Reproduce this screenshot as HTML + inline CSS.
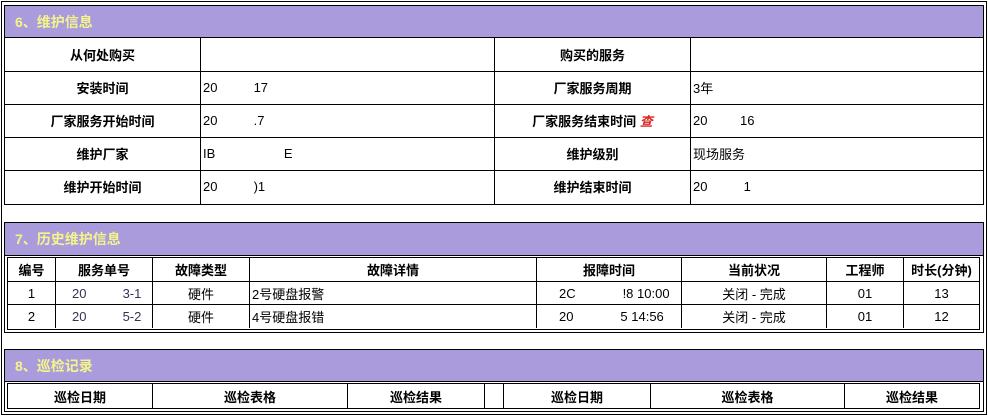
<!DOCTYPE html>
<html><head><meta charset="utf-8"><style>
*{margin:0;padding:0;box-sizing:border-box}
body{width:988px;height:416px;background:#fff;position:relative;overflow:hidden;font-family:"Liberation Sans","Noto Sans CJK SC",sans-serif;font-size:13px;color:#000}
.a{position:absolute}
.frame{left:1px;top:1px;width:986px;height:414px;border:1px solid #000}
.box{border:1px solid #000;background:#fff}
.hd{background:#a99bdc;color:#f4f48a;font-weight:bold;font-size:14px;padding-left:10px;display:flex;align-items:center;border-bottom:1px solid #000}
.hl{background:#000}
.t{position:absolute;display:flex;align-items:center;white-space:pre}
.c{justify-content:center}
.b{font-weight:bold}
.blue{color:#335}
</style></head><body>
<div class="a frame"></div>

<!-- section 6 -->
<div class="a box" style="left:4px;top:5px;width:980px;height:200px"></div>
<div class="a hd" style="left:5px;top:6px;width:978px;height:32px">6、维护信息</div>
<div class="a hl" style="left:5px;top:71px;width:978px;height:1px"></div>
<div class="a hl" style="left:5px;top:104px;width:978px;height:1px"></div>
<div class="a hl" style="left:5px;top:137px;width:978px;height:1px"></div>
<div class="a hl" style="left:5px;top:170px;width:978px;height:1px"></div>
<div class="a hl" style="left:200px;top:38px;width:1px;height:166px"></div>
<div class="a hl" style="left:494px;top:38px;width:1px;height:166px"></div>
<div class="a hl" style="left:690px;top:38px;width:1px;height:166px"></div>

<div class="t c b" style="left:5px;top:38px;width:195px;height:33px">从何处购买</div>
<div class="t c b" style="left:5px;top:71px;width:195px;height:33px">安装时间</div>
<div class="t c b" style="left:5px;top:104px;width:195px;height:33px">厂家服务开始时间</div>
<div class="t c b" style="left:5px;top:137px;width:195px;height:33px">维护厂家</div>
<div class="t c b" style="left:5px;top:170px;width:195px;height:33px">维护开始时间</div>
<div class="t" style="left:203px;top:71px;height:33px">20          17</div>
<div class="t" style="left:203px;top:104px;height:33px">20          .7</div>
<div class="t" style="left:203px;top:137px;height:33px">IB                   E</div>
<div class="t" style="left:203px;top:170px;height:33px">20          )1</div>

<div class="t c b" style="left:495px;top:38px;width:195px;height:33px">购买的服务</div>
<div class="t c b" style="left:495px;top:71px;width:195px;height:33px">厂家服务周期</div>
<div class="t c b" style="left:495px;top:104px;width:195px;height:33px">厂家服务结束时间 <span style="color:#d22;font-style:italic">查</span></div>
<div class="t c b" style="left:495px;top:137px;width:195px;height:33px">维护级别</div>
<div class="t c b" style="left:495px;top:170px;width:195px;height:33px">维护结束时间</div>
<div class="t" style="left:693px;top:71px;height:33px">3年</div>
<div class="t" style="left:693px;top:104px;height:33px">20         16</div>
<div class="t" style="left:693px;top:137px;height:33px">现场服务</div>
<div class="t" style="left:693px;top:170px;height:33px">20          1</div>

<!-- section 7 -->
<div class="a box" style="left:4px;top:222px;width:980px;height:111px"></div>
<div class="a hd" style="left:5px;top:223px;width:978px;height:33px">7、历史维护信息</div>
<div class="a" style="left:7px;top:257px;width:973px;height:73px;border:1px solid #000"></div>
<div class="a hl" style="left:8px;top:281px;width:971px;height:1px"></div>
<div class="a hl" style="left:8px;top:304px;width:971px;height:1px"></div>
<div class="a hl" style="left:55px;top:258px;width:1px;height:70px"></div>
<div class="a hl" style="left:152px;top:258px;width:1px;height:70px"></div>
<div class="a hl" style="left:249px;top:258px;width:1px;height:70px"></div>
<div class="a hl" style="left:536px;top:258px;width:1px;height:70px"></div>
<div class="a hl" style="left:681px;top:258px;width:1px;height:70px"></div>
<div class="a hl" style="left:826px;top:258px;width:1px;height:70px"></div>
<div class="a hl" style="left:903px;top:258px;width:1px;height:70px"></div>

<div class="t c b" style="left:8px;top:258px;width:47px;height:23px">编号</div>
<div class="t c b" style="left:56px;top:258px;width:96px;height:23px">服务单号</div>
<div class="t c b" style="left:153px;top:258px;width:96px;height:23px">故障类型</div>
<div class="t c b" style="left:250px;top:258px;width:286px;height:23px">故障详情</div>
<div class="t c b" style="left:537px;top:258px;width:144px;height:23px">报障时间</div>
<div class="t c b" style="left:682px;top:258px;width:144px;height:23px">当前状况</div>
<div class="t c b" style="left:827px;top:258px;width:76px;height:23px">工程师</div>
<div class="t c b" style="left:904px;top:258px;width:75px;height:23px">时长(分钟)</div>

<div class="t c" style="left:8px;top:282px;width:47px;height:22px">1</div>
<div class="t blue" style="left:72px;top:282px;height:22px">20          3-1</div>
<div class="t c" style="left:153px;top:282px;width:96px;height:22px">硬件</div>
<div class="t" style="left:252px;top:282px;height:22px">2号硬盘报警</div>
<div class="t" style="left:559px;top:282px;height:22px">2C             !8 10:00</div>
<div class="t c" style="left:682px;top:282px;width:144px;height:22px">关闭 - 完成</div>
<div class="t c" style="left:827px;top:282px;width:76px;height:22px">01</div>
<div class="t c" style="left:904px;top:282px;width:75px;height:22px">13</div>

<div class="t c" style="left:8px;top:305px;width:47px;height:22px">2</div>
<div class="t blue" style="left:72px;top:305px;height:22px">20          5-2</div>
<div class="t c" style="left:153px;top:305px;width:96px;height:22px">硬件</div>
<div class="t" style="left:252px;top:305px;height:22px">4号硬盘报错</div>
<div class="t" style="left:559px;top:305px;height:22px">20             5 14:56</div>
<div class="t c" style="left:682px;top:305px;width:144px;height:22px">关闭 - 完成</div>
<div class="t c" style="left:827px;top:305px;width:76px;height:22px">01</div>
<div class="t c" style="left:904px;top:305px;width:75px;height:22px">12</div>

<!-- section 8 -->
<div class="a box" style="left:4px;top:349px;width:980px;height:63px"></div>
<div class="a hd" style="left:5px;top:350px;width:978px;height:32px">8、巡检记录</div>
<div class="a" style="left:7px;top:383px;width:973px;height:26px;border:1px solid #000"></div>
<div class="a hl" style="left:152px;top:384px;width:1px;height:24px"></div>
<div class="a hl" style="left:347px;top:384px;width:1px;height:24px"></div>
<div class="a hl" style="left:484px;top:384px;width:1px;height:24px"></div>
<div class="a hl" style="left:503px;top:384px;width:1px;height:24px"></div>
<div class="a hl" style="left:650px;top:384px;width:1px;height:24px"></div>
<div class="a hl" style="left:844px;top:384px;width:1px;height:24px"></div>
<div class="t c b" style="left:8px;top:384px;width:144px;height:24px">巡检日期</div>
<div class="t c b" style="left:153px;top:384px;width:194px;height:24px">巡检表格</div>
<div class="t c b" style="left:348px;top:384px;width:136px;height:24px">巡检结果</div>
<div class="t c b" style="left:504px;top:384px;width:146px;height:24px">巡检日期</div>
<div class="t c b" style="left:651px;top:384px;width:193px;height:24px">巡检表格</div>
<div class="t c b" style="left:845px;top:384px;width:134px;height:24px">巡检结果</div>
</body></html>
